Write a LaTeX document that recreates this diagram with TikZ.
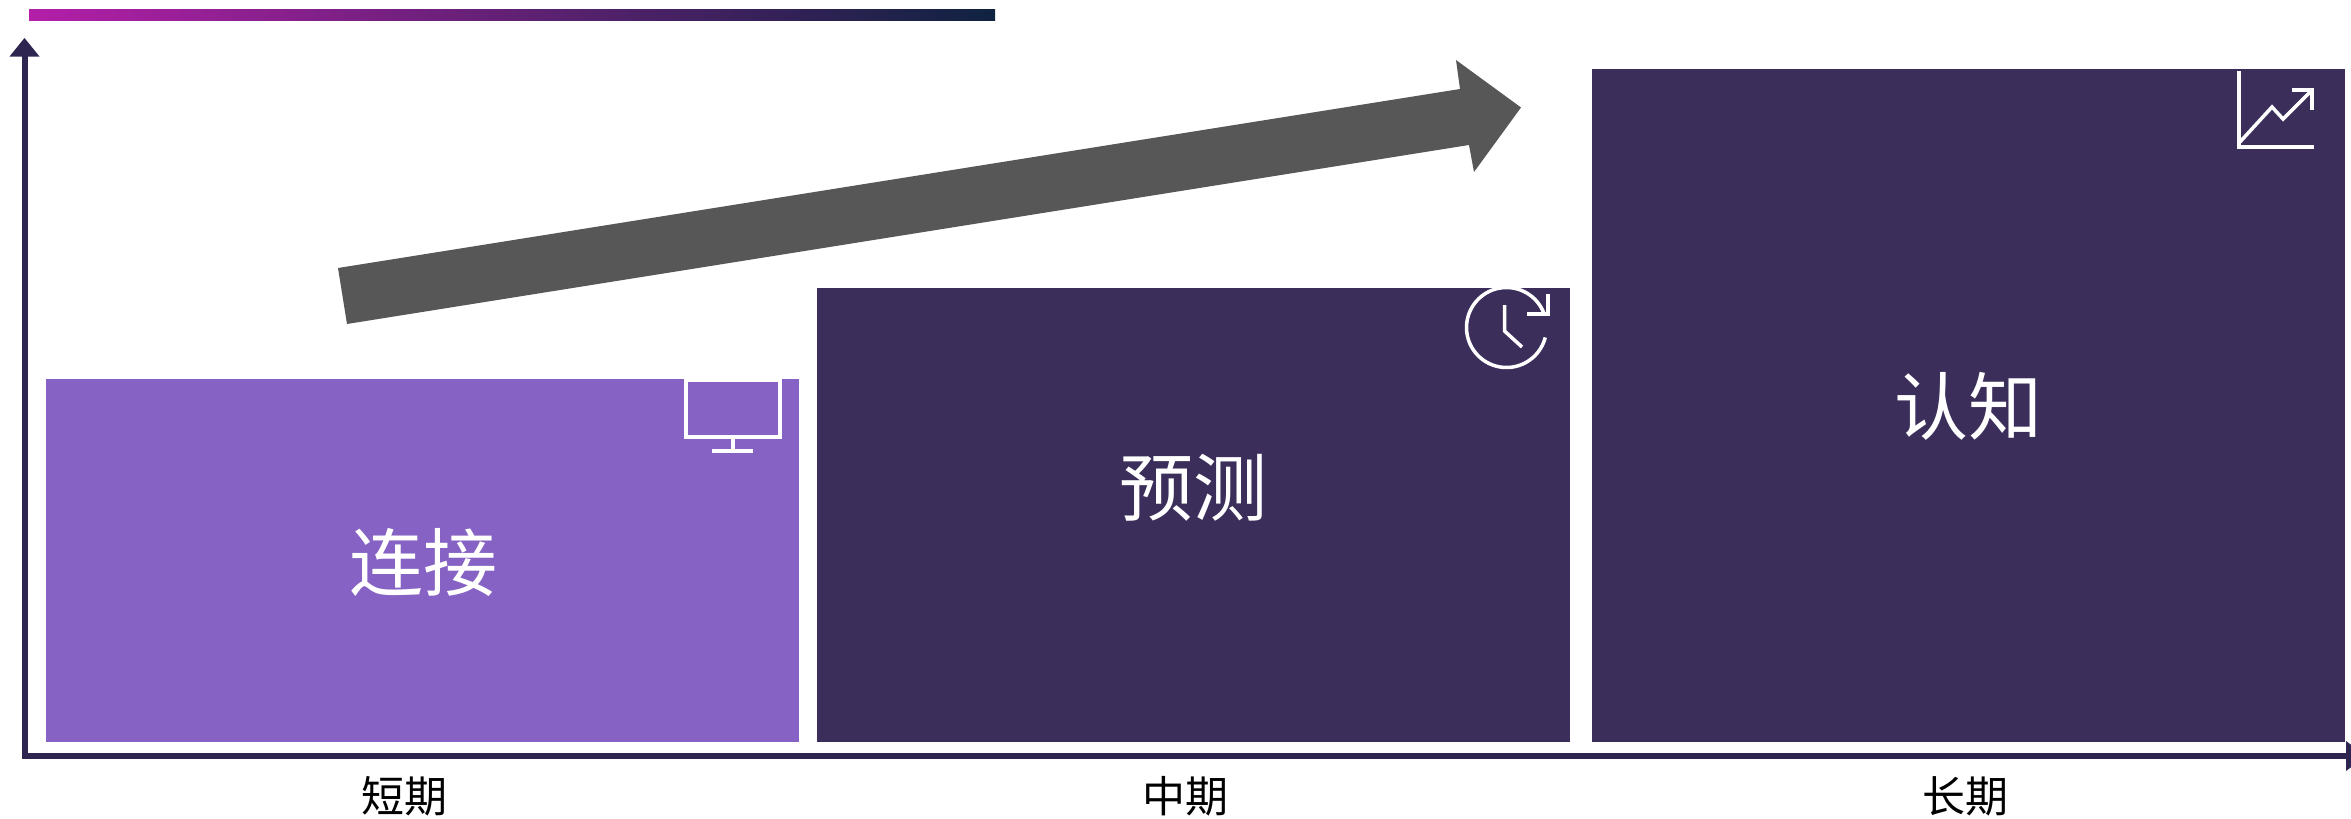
\documentclass[tikz,border=0pt]{standalone}
\usepackage{fontspec}
\setmainfont{Noto Sans CJK SC}
\usetikzlibrary{arrows.meta}
\definecolor{boxpurple}{HTML}{8562C3}
\definecolor{boxdark}{HTML}{3C2E5A}
\definecolor{axiscol}{HTML}{2E2650}
\definecolor{arrowgray}{HTML}{575757}
\definecolor{barstart}{HTML}{B31FA8}
\definecolor{barend}{HTML}{0F2240}
\tikzset{
  panel/.style={draw=none,inner sep=0pt,anchor=north west},
  paneltext/.style={text=white,font=\fontsize{74}{74}\selectfont,inner sep=0pt},
  axislabel/.style={text=black,font=\fontsize{43}{43}\selectfont,inner sep=0pt},
  axisline/.style={draw=axiscol,line width=6pt},
  axishead/.style={fill=axiscol,draw=none},
  iconline/.style={draw=white,line width=3.5pt},
}
\begin{document}
\begin{tikzpicture}[x=1pt,y=-1pt]
\useasboundingbox (0,0) rectangle (2351,819);
% top bar
\shade[left color=barstart,right color=barend] (29,9) rectangle (995,20);
% panels
\node[panel,fill=boxpurple,minimum width=753pt,minimum height=363pt] (p1) at (46,379) {};
\node[panel,fill=boxdark,minimum width=753pt,minimum height=454pt] (p2) at (817,288) {};
\node[panel,fill=boxdark,minimum width=753pt,minimum height=673pt] (p3) at (1592,69) {};
\node[paneltext] (t1) at (423,562) {连接};
\node[paneltext] (t2) at (1193,488) {预测};
\node[paneltext] (t3) at (1968,406) {认知};
% axes
\coordinate (origin) at (24.5,756);
\coordinate (ytip) at (24.5,38);
\coordinate (xtip) at (2366,756);
\draw[axisline] (24.5,56) -- (origin) -- (2347,756);
\fill[axishead] (ytip) -- (39.5,56.5) -- (9.5,56.5) -- cycle;
\fill[axishead] (xtip) -- (2346,741) -- (2346,771) -- cycle;
\node[axislabel] (l1) at (404,796) {短期};
\node[axislabel] (l2) at (1185,796) {中期};
\node[axislabel] (l3) at (1965,796) {长期};
% big arrow
\fill[arrowgray] (338,268) -- (1460,89) -- (1456,60) -- (1521,107.5) -- (1474,172) -- (1469,145) -- (347,324) -- cycle;
% monitor icon
\draw[iconline] (686,379) -- (686,437) -- (780,437) -- (780,379);
\draw[iconline] (686,380) -- (780,380);
\draw[iconline] (780,405) -- (781.5,405);
\draw[iconline] (733,437) -- (733,451);
\draw[iconline] (712,451) -- (753,451);
% clock icon
\draw[iconline,smooth] plot[domain=-17.8:-345.6,samples=80] ({1506.5+40*cos(\x)},{327.5+40*sin(\x)});
\draw[iconline] (1527,314) -- (1548,314) -- (1548,294);
\draw[iconline] (1504.5,305) -- (1504.5,331) -- (1522,347);
% chart icon
\draw[iconline] (2239,71) -- (2239,147) -- (2314,147);
\draw[iconline] (2239,143) -- (2272,107) -- (2283,119) -- (2312,90);
\draw[iconline] (2292,90) -- (2312,90) -- (2312,110);
\end{tikzpicture}
\end{document}
